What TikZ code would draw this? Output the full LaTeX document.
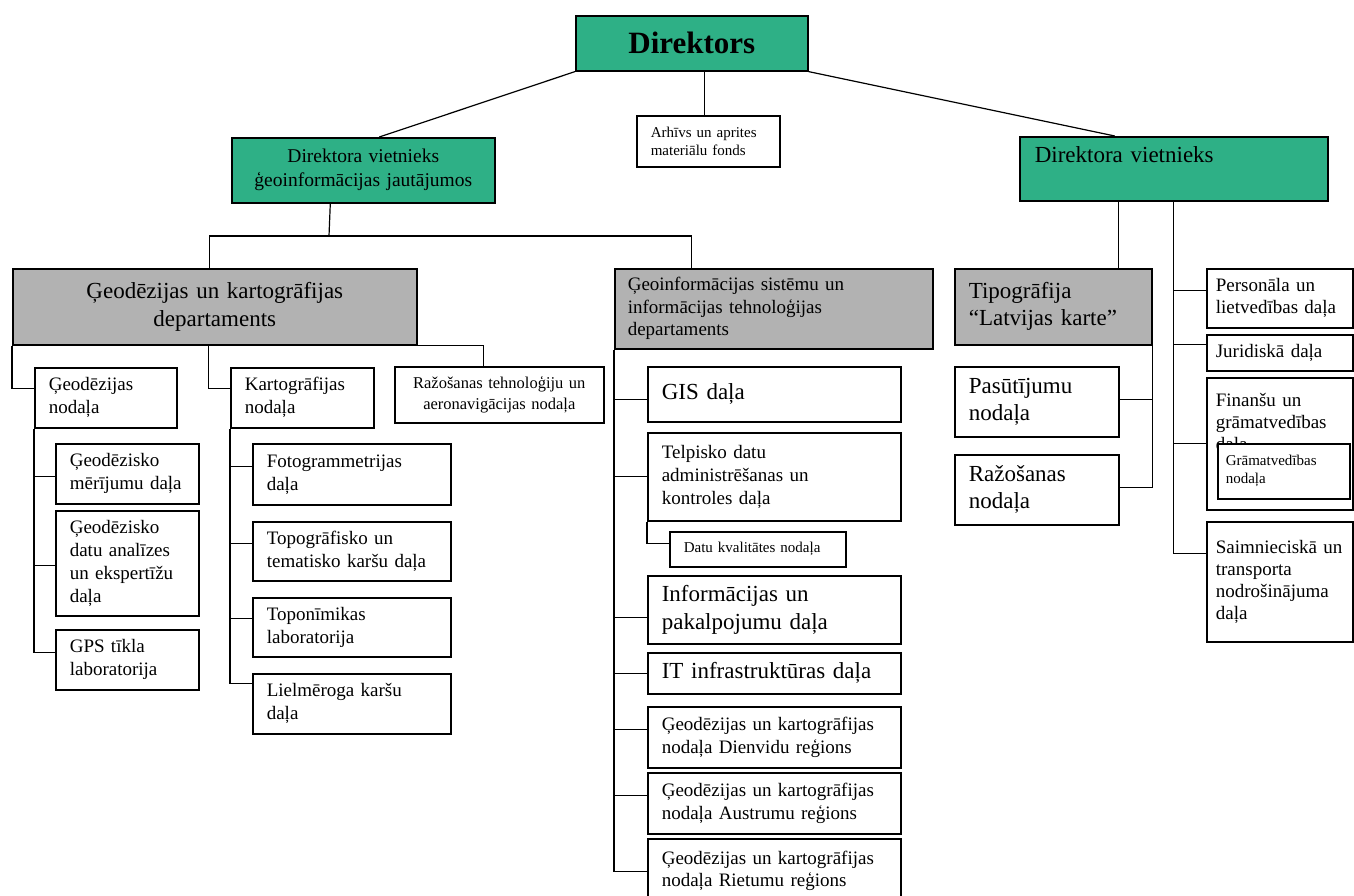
\documentclass[tikz,border=0pt]{standalone}
\usepackage{fontspec}
\setmainfont{Liberation Serif}
\usetikzlibrary{calc}

\definecolor{dirgreen}{RGB}{46,176,134}
\definecolor{deptgray}{RGB}{178,178,178}

\tikzset{
  box/.style={draw, line width=1.6pt, fill=white, anchor=north west, align=left,
              inner xsep=14pt, inner ysep=0pt},
  greenbox/.style={box, fill=dirgreen},
  graybox/.style={box, fill=deptgray},
  link/.style={line width=1.2pt},
  txtbig/.style={font=\fontsize{23}{28}\selectfont},
  txtmid/.style={font=\fontsize{19}{23}\selectfont},
  txtside/.style={font=\fontsize{19}{22}\selectfont},
  txtsmall/.style={font=\fontsize{15}{18}\selectfont},
}

\begin{document}
\begin{tikzpicture}[x=1pt, y=-1pt]
  \useasboundingbox (0,0) rectangle (1354,895);

  % top level
  \node[greenbox, align=center, text width=204pt, minimum height=55pt,
        font=\fontsize{31}{36}\selectfont\bfseries] (dir) at (575,15) {Direktors};
  \node[box, txtsmall, text width=115pt, minimum height=51pt] (arch) at (636,115)
        {Arhīvs un aprites\\materiālu fonds};
  \node[greenbox, align=center, text width=235pt, minimum height=65pt,
        font=\fontsize{19.5}{24}\selectfont] (depgeo) at (231,137)
        {Direktora vietnieks\\ģeoinformācijas jautājumos};
  \node[greenbox, txtbig, inner xsep=15pt, text width=278pt, minimum height=64pt] (depr) at (1019,136)
        {Direktora vietnieks\\\mbox{}};

  % departments
  \node[graybox, txtbig, align=center, text width=376pt, minimum height=76pt] (gkd) at (12,268)
        {Ģeodēzijas un kartogrāfijas\\departaments};
  \node[graybox, font=\fontsize{19}{22.5}\selectfont, inner xsep=13pt, text width=292pt,
        minimum height=80pt] (gisd) at (614,268)
        {Ģeoinformācijas sistēmu un\\informācijas tehnoloģijas\\departaments};
  \node[graybox, font=\fontsize{23}{27}\selectfont, text width=169pt, minimum height=76pt] (tipo) at (954,268)
        {Tipogrāfija\\“Latvijas karte”};

  % geodesy and cartography
  \node[box, txtmid, text width=114pt, minimum height=60pt] (geonod) at (34,367) {Ģeodēzijas\\nodaļa};
  \node[box, txtmid, text width=115pt, minimum height=60pt] (kartnod) at (230,367) {Kartogrāfijas\\nodaļa};
  \node[box, align=center, font=\fontsize{16.5}{21}\selectfont, inner xsep=8pt, text width=193pt,
        minimum height=56pt] (razteh) at (394,366) {Ražošanas tehnoloģiju un\\aeronavigācijas nodaļa};

  \node[box, txtmid, text width=115pt, minimum height=60pt] (gmer) at (55,443) {Ģeodēzisko\\mērījumu daļa};
  \node[box, txtmid, text width=115pt, minimum height=105pt] (gdat) at (55,510)
        {Ģeodēzisko\\datu analīzes\\un ekspertīžu\\daļa};
  \node[box, txtmid, text width=115pt, minimum height=60pt] (gps) at (55,629) {GPS tīkla\\laboratorija};

  \node[box, txtmid, text width=170pt, minimum height=61pt] (foto) at (252,443) {Fotogrammetrijas\\daļa};
  \node[box, txtmid, text width=170pt, minimum height=59pt] (topo) at (252,521)
        {Topogrāfisko un\\tematisko karšu daļa};
  \node[box, txtmid, text width=170pt, minimum height=59pt] (topon) at (252,597) {Toponīmikas\\laboratorija};
  \node[box, txtmid, text width=170pt, minimum height=60pt] (liel) at (252,673) {Lielmēroga karšu\\daļa};

  % GIS and IT
  \node[box, txtbig, text width=225pt, minimum height=55pt] (gis) at (647,366) {GIS daļa};
  \node[box, txtmid, text width=225pt, minimum height=88pt] (telp) at (647,432)
        {Telpisko datu\\administrēšanas un\\kontroles daļa};
  \node[box, txtsmall, text width=148pt, minimum height=35pt] (datu) at (669,531) {Datu kvalitātes nodaļa};
  \node[box, txtbig, text width=225pt, minimum height=68pt] (info) at (647,575)
        {Informācijas un\\pakalpojumu daļa};
  \node[box, txtbig, text width=225pt, minimum height=41pt] (itinf) at (647,652) {IT infrastruktūras daļa};
  \node[box, font=\fontsize{19}{22.5}\selectfont, text width=225pt, minimum height=61pt] (dienv) at (647,706)
        {Ģeodēzijas un kartogrāfijas\\nodaļa Dienvidu reģions};
  \node[box, font=\fontsize{19}{22.5}\selectfont, text width=225pt, minimum height=61pt] (austr) at (647,772)
        {Ģeodēzijas un kartogrāfijas\\nodaļa Austrumu reģions};
  \node[box, font=\fontsize{19}{22.5}\selectfont, text width=225pt, minimum height=64pt] (riet) at (647,838)
        {Ģeodēzijas un kartogrāfijas\\nodaļa Rietumu reģions\\[4pt]};

  % typography
  \node[box, font=\fontsize{23}{27}\selectfont, text width=136pt, minimum height=70pt] (pasut) at (954,366)
        {Pasūtījumu\\nodaļa};
  \node[box, font=\fontsize{23}{27}\selectfont, text width=136pt, minimum height=70pt] (razn) at (954,454)
        {Ražošanas\\nodaļa};

  % right column
  \node[box, txtside, inner xsep=9pt, text width=128pt, minimum height=59pt] (pers) at (1206,268)
        {Personāla un\\lietvedības daļa};
  \node[box, txtside, inner xsep=9pt, text width=128pt, minimum height=36pt] (jur) at (1206,334) {Juridiskā daļa};
  \node[box, txtside, inner xsep=9pt, text width=128pt, minimum height=132pt] (fin) at (1206,377)
        {Finanšu un\\grāmatvedības\\daļa\\\mbox{}\\\mbox{}};
  \node[box, txtsmall, inner xsep=8pt, text width=116pt, minimum height=55pt] (gram) at (1217,443)
        {Grāmatvedības\\nodaļa};
  \node[box, txtside, inner xsep=9pt, text width=128pt, minimum height=120pt] (saim) at (1206,521)
        {Saimnieciskā un\\transporta\\nodrošinājuma\\daļa};

  % connectors
  \draw[link] (dir.south west) -- ([xshift=16pt]depgeo.north);
  \draw[link] (dir.south east) -- ([xshift=-59pt]depr.north);
  \draw[link] ([xshift=-4pt]arch.north) -- ([xshift=-4pt]arch.north |- dir.south);

  \coordinate (geobus) at (329,236);
  \draw[link] ([xshift=-33pt]depgeo.south) -- (geobus);
  \draw[link] ([xshift=-5pt]gkd.north) |- (geobus) -| ([xshift=-82pt]gisd.north);

  \draw[link] (gkd.south west) |- ([yshift=9pt]geonod.west);
  \draw[link] ([xshift=-6pt]gkd.south) |- ([yshift=9pt]kartnod.west);
  \draw[link] (gkd.south east) -| ([xshift=-16pt]razteh.north);

  \foreach \n/\s in {gmer/-3, gdat/-2, gps/7}
    \draw[link] (geonod.south west) |- ([yshift=\s pt]\n.west);
  \foreach \n/\s in {foto/8, topo/8, topon/9, liel/20}
    \draw[link] (kartnod.south west) |- ([yshift=\s pt]\n.west);

  \foreach \n/\s in {gis/-5, telp/0, info/-8, itinf/0, dienv/8, austr/8, riet/-1}
    \draw[link] (gisd.south west) |- ([yshift=\s pt]\n.west);
  \draw[link] (telp.south west) |- ([yshift=6pt]datu.west);

  \draw[link] ([xshift=-55pt]depr.south) -- ([xshift=-55pt]depr.south |- tipo.north);
  \draw[link] (tipo.south east) |- ([yshift=2pt]pasut.east);
  \draw[link] (tipo.south east) |- ([yshift=2pt]razn.east);

  \foreach \n/\s in {pers/8, jur/8, fin/0, saim/28}
    \draw[link] (depr.south) |- ([yshift=\s pt]\n.west);
\end{tikzpicture}
\end{document}
